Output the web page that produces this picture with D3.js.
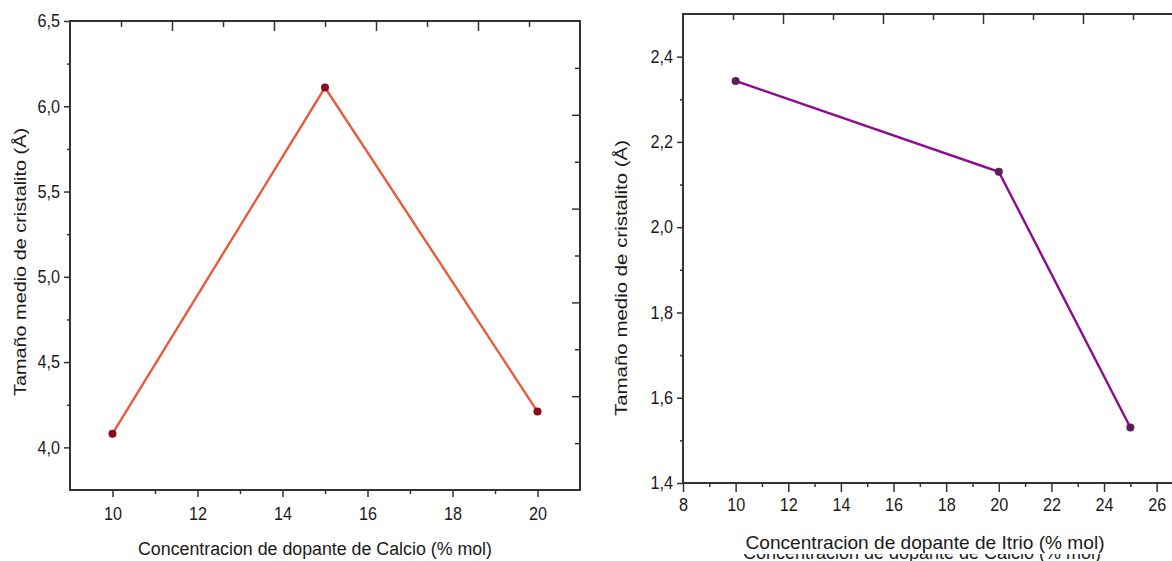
<!DOCTYPE html>
<html>
<head>
<meta charset="utf-8">
<script src="https://cdn.jsdelivr.net/npm/d3@7"></script>
<style>
body{margin:0;background:#fff;overflow:hidden;}
.chart{width:1172px;height:561px;}
text{font-family:"Liberation Sans",Arial,sans-serif;fill:#1a1a1a;}
.axis path{display:none;}
.axis line{stroke:#333;stroke-width:1.5;}
.axis text{font-size:18px;}
</style>
</head>
<body>
<div class="chart"></div>
<script>
// datos
const calcioX = [10, 15, 20];
const calcioY = [4.08, 6.11, 4.21];
const itrioX = [10, 20, 25];
const itrioY = [2.343, 2.13, 1.53];

const calcioXTicks = [10, 12, 14, 16, 18, 20];
const calcioYTicks = [4.0, 4.5, 5.0, 5.5, 6.0, 6.5];
const itrioXTicks = [8, 10, 12, 14, 16, 18, 20, 22, 24, 26];
const itrioYTicks = [1.4, 1.6, 1.8, 2.0, 2.2, 2.4];

const yTitle = 'Tamaño medio de cristalito  (Å)';
const calcioTitle = 'Concentracion de dopante de Calcio (% mol)';
const itrioTitle = 'Concentracion de dopante de Itrio (% mol)';

const width = d3.select('.chart').node().clientWidth;
const height = d3.select('.chart').node().clientHeight;

let svg = d3.select('.chart')
	.append('svg')
	.attr('width', width)
	.attr('height', height);

const comma = d3.formatLocale({decimal: ',', thousands: '.', grouping: [3], currency: ['', '']}).format('.1f');

function panel(o){
	const x = d3.scaleLinear().domain(o.xDomain).range([o.left, o.right]);
	const y = d3.scaleLinear().domain(o.yDomain).range([o.bottom, o.top]);
	const g = svg.append('g');

	// frame
	g.append('path')
		.attr('d', `M${o.left},${o.top}H${o.right}V${o.bottom}H${o.left}Z`)
		.attr('fill', 'none')
		.attr('stroke', '#333')
		.attr('stroke-width', 2);

	// bottom axis, outward ticks
	g.append('g').attr('class', 'axis')
		.attr('transform', `translate(0,${o.bottom})`)
		.call(d3.axisBottom(x).tickValues(o.xTicks).tickSize(o.xMajor).tickPadding(o.xPad).tickFormat(d3.format('d')))
		.selectAll('text').attr('transform', 'scale(0.9,1)').attr('x', function(){ return 0; });
	g.append('g').attr('class', 'axis')
		.attr('transform', `translate(0,${o.bottom})`)
		.call(d3.axisBottom(x).tickValues(o.xTicks.map(d => d + o.xStep / 2).filter(d => x(d) < o.right)).tickSize(4).tickFormat(''));

	// left axis, outward ticks
	g.append('g').attr('class', 'axis')
		.attr('transform', `translate(${o.left},0)`)
		.call(d3.axisLeft(y).tickValues(o.yTicks).tickSize(6).tickPadding(4).tickFormat(comma))
		.selectAll('text').attr('transform', 'scale(0.9,1)').attr('x', -10 / 0.9);
	g.append('g').attr('class', 'axis')
		.attr('transform', `translate(${o.left},0)`)
		.call(d3.axisLeft(y).tickValues(o.yTicks.map(d => d + o.yStep / 2).filter(d => y(d) > o.top)).tickSize(3).tickFormat(''));

	// top axis, inward ticks (its own spacing)
	const xt = d3.scaleLinear().domain([0, 10]).range([o.left, o.left + o.topStep * 10]);
	const topTicks = d3.range(1, 10);
	g.append('g').attr('class', 'axis')
		.attr('transform', `translate(0,${o.top})`)
		.call(d3.axisBottom(xt).tickValues(topTicks.filter(d => d % 2 === 0)).tickSize(10).tickFormat(''));
	g.append('g').attr('class', 'axis')
		.attr('transform', `translate(0,${o.top})`)
		.call(d3.axisBottom(xt).tickValues(topTicks.filter(d => d % 2 === 1)).tickSize(6).tickFormat(''));

	// right axis, inward ticks
	if (o.right < width) {
		const yr = d3.scaleLinear().domain([0, 10]).range([o.bottom, o.top]);
		g.append('g').attr('class', 'axis')
			.attr('transform', `translate(${o.right},0)`)
			.call(d3.axisLeft(yr).tickValues(topTicks.filter(d => d % 2 === 0)).tickSize(8).tickFormat(''));
		g.append('g').attr('class', 'axis')
			.attr('transform', `translate(${o.right},0)`)
			.call(d3.axisLeft(yr).tickValues(topTicks.filter(d => d % 2 === 1)).tickSize(5).tickFormat(''));
	}

	const pts = o.xs.map((d, i) => [d, o.ys[i]]);
	g.append('path')
		.datum(pts)
		.attr('d', d3.line().x(d => x(d[0])).y(d => y(d[1])))
		.attr('fill', 'none')
		.attr('stroke', o.line)
		.attr('stroke-width', 2.4);
	g.selectAll('circle')
		.data(pts)
		.enter().append('circle')
		.attr('cx', d => x(d[0]))
		.attr('cy', d => y(d[1]))
		.attr('r', 4)
		.attr('fill', o.dot);

	// titles
	g.append('text')
		.attr('transform', `translate(${o.yTitleX},${o.yTitleY}) rotate(-90)`)
		.attr('text-anchor', 'middle')
		.attr('font-size', 17)
		.attr('textLength', o.yTitleLen)
		.attr('lengthAdjust', 'spacingAndGlyphs')
		.text(yTitle);
	return g;
}

panel({
	left: 70, right: 580, top: 21, bottom: 490,
	xDomain: [9, 21], yDomain: [3.75, 6.5],
	xTicks: calcioXTicks, yTicks: calcioYTicks, xStep: 2, yStep: 0.5,
	xMajor: 7, xPad: 10, topStep: 51,
	xs: calcioX, ys: calcioY, line: '#ec5a3c', dot: '#8a0a1c',
	yTitleX: 26, yTitleY: 262, yTitleLen: 268
});

panel({
	left: 683, right: 1183, top: 14, bottom: 483,
	xDomain: [8, 27], yDomain: [1.4, 2.5],
	xTicks: itrioXTicks, yTicks: itrioYTicks, xStep: 2, yStep: 0.2,
	xMajor: 9, xPad: 6, topStep: 50,
	xs: itrioX, ys: itrioY, line: '#8e0a8e', dot: '#5c2059',
	yTitleX: 627, yTitleY: 278, yTitleLen: 276
});

// x titles
svg.append('text')
	.attr('x', 315).attr('y', 555)
	.attr('text-anchor', 'middle')
	.attr('font-size', 18)
	.attr('textLength', 354)
	.attr('lengthAdjust', 'spacingAndGlyphs')
	.text(calcioTitle);

// leftover label under the Itrio title, mostly covered
svg.append('clipPath').attr('id', 'ghost')
	.append('rect').attr('x', 700).attr('y', 554).attr('width', 460).attr('height', 10);
svg.append('text')
	.attr('clip-path', 'url(#ghost)')
	.attr('x', 922).attr('y', 559)
	.attr('text-anchor', 'middle')
	.attr('font-size', 18)
	.attr('textLength', 358)
	.attr('lengthAdjust', 'spacingAndGlyphs')
	.text(calcioTitle);

svg.append('text')
	.attr('x', 925).attr('y', 549)
	.attr('text-anchor', 'middle')
	.attr('font-size', 19)
	.attr('textLength', 359)
	.attr('lengthAdjust', 'spacingAndGlyphs')
	.text(itrioTitle);
</script>
</body>
</html>
